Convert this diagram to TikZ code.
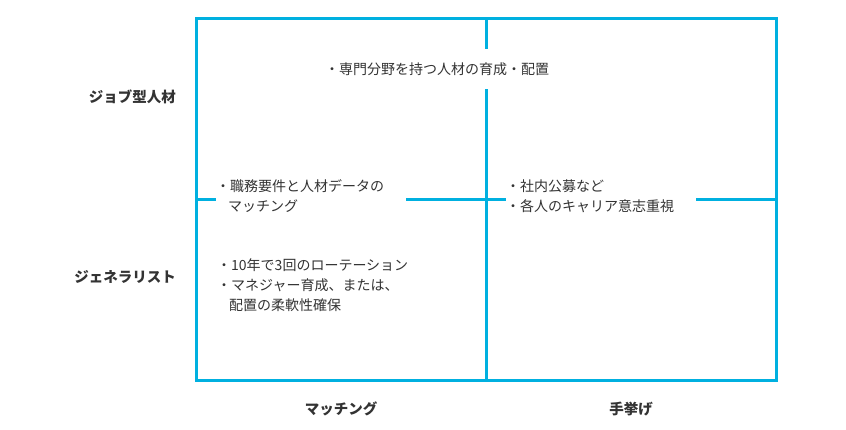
\documentclass[tikz,border=0pt]{standalone}
\usepackage{fontspec}
\setmainfont{Noto Sans CJK JP}
\definecolor{framecyan}{HTML}{00B0E0}
\definecolor{txtgray}{HTML}{333333}
\tikzset{
  frameline/.style={framecyan,line width=3pt},
  cell/.style={fill=white,text=txtgray,align=left,anchor=west,inner sep=0pt,
    font=\fontsize{14}{20}\selectfont},
  axislabel/.style={text=txtgray,font=\fontsize{14.5}{18}\selectfont\bfseries,inner sep=0pt}
}
\begin{document}
\begin{tikzpicture}[x=1pt,y=-1pt]
\useasboundingbox (0,0) rectangle (846,430);
% frame and cross
\draw[frameline] (196,19) rectangle (776,380);
\draw[frameline] (486,19) -- (486,380);
\draw[frameline] (196,200) -- (776,200);
% cells
\node[cell,minimum height=40pt] (spec) at (325,69) {・専門分野を持つ人材の育成・配置};
\node[cell,minimum height=44pt,text width=190pt] (match) at (216,196) {・職務要件と人材データの\\\hspace*{12pt}マッチング};
\node[cell,minimum height=44pt,text width=190pt] (appeal) at (506,196) {・社内公募など\\・各人のキャリア意志重視};
\node[cell] (rot) at (217,285) {・10年で3回のローテーション\\・マネジャー育成、または、\\\hspace*{12pt}配置の柔軟性確保};
% axis labels
\node[axislabel,anchor=east] (job) at (176,97) {ジョブ型人材};
\node[axislabel,anchor=east] (gen) at (176,277) {ジェネラリスト};
\node[axislabel] (colm) at (341,409) {マッチング};
\node[axislabel] (colh) at (631,409) {手挙げ};
\end{tikzpicture}
\end{document}
